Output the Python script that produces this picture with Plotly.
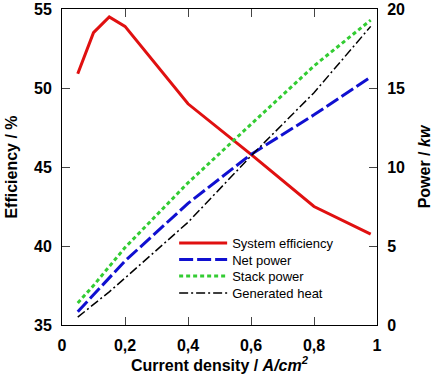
import plotly.graph_objects as go

current = [0.05, 0.1, 0.15, 0.2, 0.4, 0.6, 0.8, 0.98]
efficiency = [50.9, 53.5, 54.5, 53.9, 49.0, 45.8, 42.5, 40.75]
net_power = [0.84, 1.9, 3.0, 4.05, 7.7, 10.8, 13.3, 15.7]
stack_power = [1.39, 2.5, 3.7, 4.9, 9.0, 12.7, 16.4, 19.3]
gen_heat = [0.5, 1.3, 2.1, 2.97, 6.5, 10.7, 14.7, 18.9]

x_tickvals = [0, 0.2, 0.4, 0.6, 0.8, 1]
x_ticktext = ["0", "0,2", "0,4", "0,6", "0,8", "1"]
y1_tickvals = [35, 40, 45, 50, 55]
y2_tickvals = [0, 5, 10, 15, 20]

fig = go.Figure()
fig.add_trace(go.Scatter(x=current, y=efficiency, name="System efficiency", mode="lines",
                         line=dict(color="#e01010", width=3), legend="legend"))
fig.add_trace(go.Scatter(x=current, y=net_power, name="Net power", mode="lines", yaxis="y2",
                         line=dict(color="#1010d0", width=3, dash="14px,4px"), legend="legend2"))
fig.add_trace(go.Scatter(x=current, y=stack_power, name="Stack power", mode="lines", yaxis="y2",
                         line=dict(color="#33cc33", width=3, dash="4px,3px"), legend="legend3"))
fig.add_trace(go.Scatter(x=current, y=gen_heat, name="Generated heat", mode="lines", yaxis="y2",
                         line=dict(color="black", width=1.5, dash="9px,3px,2px,3px"), legend="legend4"))

FAM = "Liberation Sans, Arial, sans-serif"
tick = dict(family=FAM, size=16, color="black", weight="bold")
ttl = dict(family=FAM, size=16, color="black", weight="bold")

def leg(yc):
    return dict(x=0.356, y=yc, xanchor="left", yanchor="middle", bgcolor="rgba(0,0,0,0)",
                font=dict(family=FAM, size=13, color="black"), itemwidth=48)

fig.update_layout(
    width=442, height=377,
    margin=dict(l=62, r=65, t=9, b=52),
    paper_bgcolor="white", plot_bgcolor="white",
    font=dict(family=FAM, size=12, color="black"),
    showlegend=True,
    legend=leg(0.259), legend2=leg(0.207), legend3=leg(0.155), legend4=leg(0.101),
    xaxis=dict(range=[0, 1], tickvals=x_tickvals, ticktext=x_ticktext, ticks="inside", ticklen=8,
               showline=True, linecolor="black", linewidth=1, mirror="ticks", showgrid=False,
               zeroline=False, tickfont=tick, automargin=False, ticklabelstandoff=6,
               ticklabeloverflow="allow",
               title=dict(text="Current density / <i>A/cm<sup>2</sup></i>", font=ttl, standoff=2)),
    yaxis=dict(range=[35, 55], tickvals=y1_tickvals, ticks="inside", ticklen=8,
               showline=True, linecolor="black", linewidth=1, showgrid=False, zeroline=False,
               tickfont=tick, automargin=False, ticklabelstandoff=6, ticklabeloverflow="allow",
               title=dict(text="Efficiency / %", font=ttl, standoff=12)),
    yaxis2=dict(range=[0, 20], tickvals=y2_tickvals, ticks="inside", ticklen=8, overlaying="y",
                side="right", showline=True, linecolor="black", linewidth=1, showgrid=False,
                zeroline=False, tickfont=tick, automargin=False, ticklabelstandoff=6,
                ticklabeloverflow="allow",
                title=dict(text="Power / <i>kw</i>", font=ttl, standoff=14)),
)

fig.write_html("out.html", config={"displayModeBar": False},
               post_script="document.body.style.margin='0';")
